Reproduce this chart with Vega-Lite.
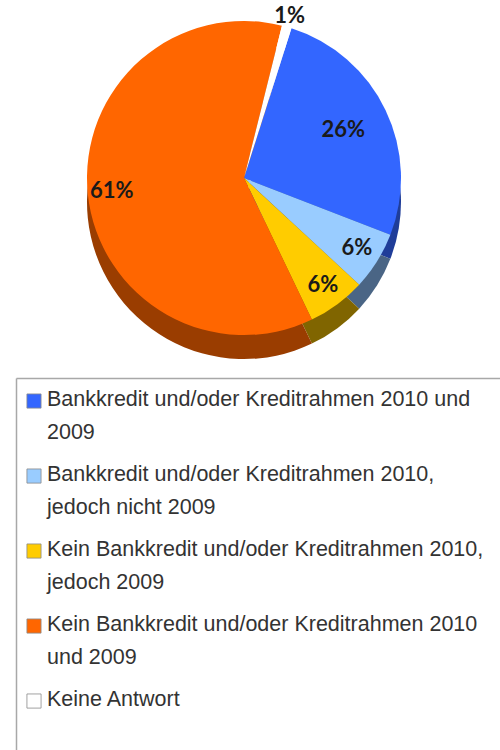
{
  "$schema": "https://vega.github.io/schema/vega-lite/v6.json",
  "padding": {"left": 16, "top": 0, "right": 0, "bottom": 0},
  "background": "white",
  "config": {"view": {"stroke": null}},
  "datasets": {
    "shares": [
      {"category": "Bankkredit und/oder Kreditrahmen 2010 und\n2009", "share": 0.26},
      {"category": "Bankkredit und/oder Kreditrahmen 2010,\njedoch nicht 2009", "share": 0.06},
      {"category": "Kein Bankkredit und/oder Kreditrahmen 2010,\njedoch 2009", "share": 0.06},
      {"category": "Kein Bankkredit und/oder Kreditrahmen 2010\nund 2009", "share": 0.61},
      {"category": "Keine Antwort", "share": 0.01}
    ]
  },
  "spacing": 19,
  "vconcat": [
    {
      "width": 456,
      "height": 356,
      "data": {"name": "shares"},
      "transform": [{"window": [{"op": "row_number", "as": "rank"}]}],
      "encoding": {
        "theta": {"field": "share", "type": "quantitative", "stack": true, "scale": {"range": [0.307, 6.590]}},
        "order": {"field": "rank", "type": "quantitative"}
      },
      "layer": [
        {
          "mark": {"type": "arc", "outerRadius": 157, "yOffset": 24},
          "encoding": {
            "color": {"field": "category", "type": "nominal", "sort": null, "legend": null,
              "scale": {"range": ["#1f3d99", "#4a6585", "#806500", "#9a3d00", "#d0d0d0"]}}
          }
        },
        {
          "mark": {"type": "arc", "outerRadius": 157},
          "encoding": {
            "color": {"field": "category", "type": "nominal", "sort": null, "legend": null,
              "scale": {"range": ["#3366ff", "#99ccff", "#ffcc00", "#ff6600", "#ffffff"]}}
          }
        },
        {
          "mark": {"type": "text", "radius": 110, "font": "Lato", "fontWeight": "bold", "fontSize": 22, "fill": "#1a1a1a"},
          "encoding": {
            "text": {"condition": {"test": "datum.share == 0.26", "field": "share", "type": "quantitative", "format": ".0%"}, "value": ""}
          }
        },
        {
          "mark": {"type": "text", "radius": 133, "font": "Lato", "fontWeight": "bold", "fontSize": 22, "fill": "#1a1a1a"},
          "encoding": {
            "text": {"condition": {"test": "datum.share == 0.06 || datum.share == 0.61", "field": "share", "type": "quantitative", "format": ".0%"}, "value": ""}
          }
        },
        {
          "mark": {"type": "text", "radius": 168, "font": "Lato", "fontWeight": "bold", "fontSize": 22, "fill": "#1a1a1a"},
          "encoding": {
            "text": {"condition": {"test": "datum.share == 0.01", "field": "share", "type": "quantitative", "format": ".0%"}, "value": ""}
          }
        }
      ],
      "resolve": {"scale": {"color": "independent"}}
    },
    {
      "width": 484,
      "height": 375,
      "data": {"name": "shares"},
      "encoding": {
        "y": {"field": "category", "type": "nominal", "sort": null,
          "scale": {"type": "point", "padding": 0.5, "align": 0.307},
          "axis": {"title": null, "labels": false, "ticks": false, "grid": false, "domain": true, "domainColor": "#a8a8a8", "domainWidth": 1.5}}
      },
      "layer": [
        {
          "mark": {"type": "point", "shape": "square", "filled": true, "size": 200, "stroke": "#8a8a8a", "strokeWidth": 0.8, "opacity": 1},
          "encoding": {
            "x": {"datum": 18, "type": "quantitative", "scale": {"domain": [0, 484], "nice": false, "zero": false},
              "axis": {"orient": "top", "title": null, "labels": false, "ticks": false, "grid": false, "domain": true, "domainColor": "#a8a8a8", "domainWidth": 1.5}},
            "fill": {"field": "category", "type": "nominal", "sort": null, "legend": null,
              "scale": {"range": ["#3366ff", "#99ccff", "#ffcc00", "#ff6600", "#ffffff"]}}
          }
        },
        {
          "mark": {"type": "text", "align": "left", "baseline": "top", "dy": -12, "lineBreak": "\n", "lineHeight": 33, "font": "Liberation Sans", "fontSize": 21.5, "fill": "#333333"},
          "encoding": {
            "x": {"datum": 31, "type": "quantitative"},
            "text": {"field": "category", "type": "nominal"}
          }
        }
      ]
    }
  ]
}
